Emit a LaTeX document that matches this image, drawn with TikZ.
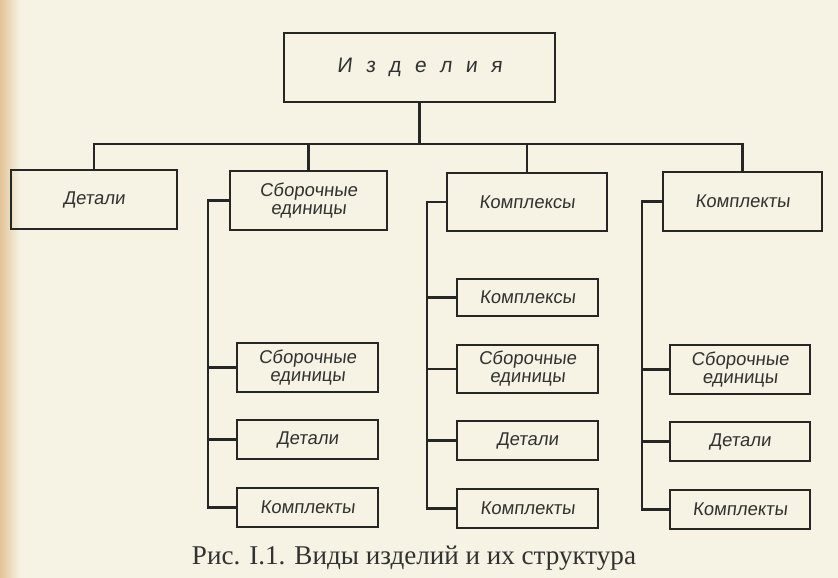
\documentclass[tikz,border=0pt]{standalone}
\usepackage{fontspec}
\setmainfont{Liberation Serif}
\newfontfamily\boxfont{Liberation Sans}[FakeSlant=0.12]
\usetikzlibrary{positioning}
\definecolor{paper}{RGB}{246,243,228}
\definecolor{strip}{RGB}{226,196,152}
\definecolor{ink}{RGB}{38,38,38}
\definecolor{txt}{RGB}{50,50,50}
\newcommand{\lsp}{\hspace{13.5pt}}
\begin{document}
\begin{tikzpicture}[x=1pt,y=-1pt,
  box/.style={draw=ink, line width=1.8pt, rectangle, inner sep=0pt, align=center,
    text=txt, font=\boxfont\fontsize{18.5}{18}\selectfont},
  wire/.style={draw=ink, line width=2.1pt}]
\useasboundingbox (0,0) rectangle (838,578);
\fill[paper] (0,0) rectangle (838,578);
\shade[left color=strip, right color=paper] (0,0) rectangle (20,578);

% top
\node[box, minimum width=271pt, minimum height=69pt, font=\boxfont\fontsize{21}{22}\selectfont] (top) at (419.5,67.5) {И\lsp з\lsp д\lsp е\lsp л\lsp и\lsp я};
% row 1
\node[box, minimum width=166pt, minimum height=59pt] (d1) at (94,199.5) {Детали};
\node[box, minimum width=157pt, minimum height=59pt] (s1) at (308.5,200.5) {Сборочные\\единицы};
\node[box, minimum width=160pt, minimum height=58pt] (k1) at (527,202) {Комплексы};
\node[box, minimum width=159pt, minimum height=59pt] (t1) at (742.5,201.5) {Комплекты};
% left column
\node[box, minimum width=141pt, minimum height=49pt] (a1) at (307.5,367.5) {Сборочные\\единицы};
\node[box, minimum width=141pt, minimum height=39pt] (a2) at (307.5,439.5) {Детали};
\node[box, minimum width=141pt, minimum height=39pt] (a3) at (307.5,507.5) {Комплекты};
% middle column
\node[box, minimum width=141pt, minimum height=37pt] (b0) at (527.5,297.5) {Комплексы};
\node[box, minimum width=141pt, minimum height=48pt] (b1) at (527.5,369) {Сборочные\\единицы};
\node[box, minimum width=141pt, minimum height=39pt] (b2) at (527.5,440.5) {Детали};
\node[box, minimum width=141pt, minimum height=39pt] (b3) at (527.5,508.5) {Комплекты};
% right column
\node[box, minimum width=140pt, minimum height=49pt] (c1) at (740,369.5) {Сборочные\\единицы};
\node[box, minimum width=140pt, minimum height=39pt] (c2) at (740,441.5) {Детали};
\node[box, minimum width=140pt, minimum height=39pt] (c3) at (740,509.5) {Комплекты};

% bus
\coordinate (bus) at (0,144);
\draw[wire] (top.south) -- (top.south |- bus);
\draw[wire] (d1.north) -- (d1.north |- bus) -| (t1.north);
\draw[wire] (s1.north) -- (s1.north |- bus);
\draw[wire] (k1.north) -- (k1.north |- bus);

% spines
\coordinate (sp1) at (208,0);
\coordinate (sp2) at (427,0);
\coordinate (sp3) at (642,0);
\draw[wire] (s1.west) -| (sp1 |- a3.west) -- (a3.west);
\draw[wire] (sp1 |- a1.west) -- (a1.west);
\draw[wire] (sp1 |- a2.west) -- (a2.west);
\draw[wire] (k1.west) -| (sp2 |- b3.west) -- (b3.west);
\draw[wire] (sp2 |- b0.west) -- (b0.west);
\draw[wire] (sp2 |- b1.west) -- (b1.west);
\draw[wire] (sp2 |- b2.west) -- (b2.west);
\draw[wire] (t1.west) -| (sp3 |- c3.west) -- (c3.west);
\draw[wire] (sp3 |- c1.west) -- (c1.west);
\draw[wire] (sp3 |- c2.west) -- (c2.west);

% caption
\node[text=txt, inner sep=0pt] (cap) at (414,558) {\resizebox{444pt}{!}{\fontsize{25}{28}\selectfont Рис. I.1. Виды изделий и их структура}};
\end{tikzpicture}
\end{document}
